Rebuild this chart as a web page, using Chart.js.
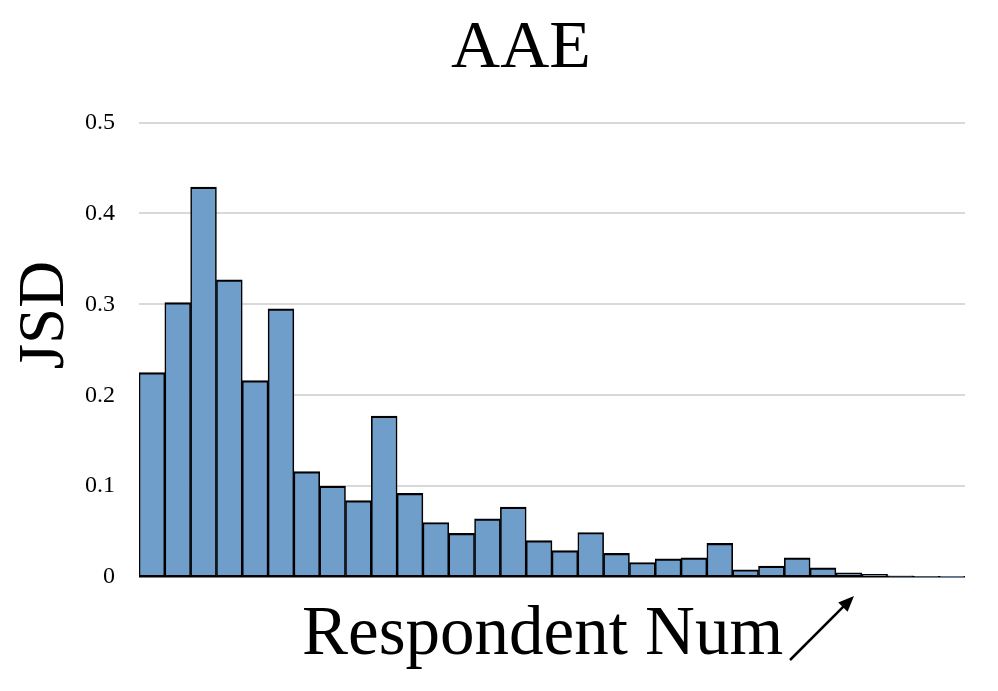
<!DOCTYPE html>
<html>
<head>
<meta charset="utf-8">
<script src="https://cdn.jsdelivr.net/npm/chart.js@4"></script>
<style>
  html, body { margin: 0; padding: 0; background: #fff; }
  #wrap { width: 998px; height: 691px; }
</style>
</head>
<body>
<div id="wrap"><canvas id="jsd-chart" width="998" height="691"></canvas></div>
<script>
// Data
const respondents = Array.from({ length: 32 }, (_, i) => String(i + 1))
const jsdValues = [
  0.225, 0.302, 0.429, 0.327, 0.216, 0.295, 0.116, 0.100,
  0.084, 0.177, 0.092, 0.060, 0.048, 0.064, 0.077, 0.040,
  0.029, 0.049, 0.026, 0.016, 0.020, 0.021, 0.037, 0.008,
  0.012, 0.021, 0.010, 0.0045, 0.003, 0.0012, 0.0006, 0.0004
]
const yTicks = [0, 0.1, 0.2, 0.3, 0.4, 0.5]

const chartTitle = 'AAE'
const yTitle = 'JSD'
const xTitle = 'Respondent Num'

const serif = "'Liberation Serif', 'Times New Roman', serif"

// Axis titles + the little arrow next to the x title
const axisLabels = {
  id: 'axisLabels',
  afterDraw(chart) {
    const c = chart.ctx
    c.save()
    c.fillStyle = '#000'
    c.font = `65px ${serif}`
    c.textBaseline = 'alphabetic'
    c.textAlign = 'center'
    c.translate(63, 315)
    c.rotate(-Math.PI / 2)
    c.fillText(yTitle, 0, 0)
    c.restore()

    c.save()
    c.fillStyle = '#000'
    c.font = `69px ${serif}`
    c.textBaseline = 'alphabetic'
    c.textAlign = 'left'
    c.fillText(xTitle, 302, 654)

    // arrow
    const x0 = 790, y0 = 660, x1 = 854, y1 = 596
    const ang = Math.atan2(y1 - y0, x1 - x0)
    const head = 17
    c.strokeStyle = '#000'
    c.lineWidth = 2.5
    c.beginPath()
    c.moveTo(x0, y0)
    c.lineTo(x1 - Math.cos(ang) * head * 0.8, y1 - Math.sin(ang) * head * 0.8)
    c.stroke()
    c.beginPath()
    c.moveTo(x1, y1)
    c.lineTo(x1 - head * Math.cos(ang - 0.4), y1 - head * Math.sin(ang - 0.4))
    c.lineTo(x1 - head * Math.cos(ang + 0.4), y1 - head * Math.sin(ang + 0.4))
    c.closePath()
    c.fill()
    c.restore()
  }
}

const ctx = document.getElementById('jsd-chart')
let myChart = new Chart(ctx, {
  type: 'bar',
  data: {
    labels: respondents,
    datasets: [{
      data: jsdValues,
      backgroundColor: '#709ECB',
      borderColor: '#000',
      borderWidth: { top: 2.2, bottom: 1.5, left: 1.6, right: 1.6 },
      borderSkipped: false,
      barPercentage: 1,
      categoryPercentage: 1
    }]
  },
  options: {
    responsive: false,
    animation: false,
    layout: {
      // left padding shifts the title over the plot; y scale width makes up the rest
      padding: { left: 77, right: 33, top: 0, bottom: 0 }
    },
    plugins: {
      legend: { display: false },
      tooltip: { enabled: false },
      title: {
        display: true,
        text: chartTitle,
        color: '#000',
        font: { family: serif, size: 68, weight: 'normal', lineHeight: 1.2 },
        padding: { top: 8, bottom: 33 }
      }
    },
    scales: {
      x: {
        grid: { display: false },
        border: { display: false },
        ticks: { display: false },
        afterFit(scale) { scale.height = 114 }
      },
      y: {
        min: 0,
        max: 0.5,
        afterBuildTicks(scale) { scale.ticks = yTicks.map(v => ({ value: v })) },
        afterFit(scale) { scale.width = 62 },
        border: { display: false },
        grid: {
          color: c => c.tick && c.tick.value === 0 ? '#000' : '#d9d9d9',
          lineWidth: c => c.tick && c.tick.value === 0 ? 1.5 : 2,
          drawTicks: false
        },
        ticks: {
          color: '#000',
          padding: 24,
          font: { family: serif, size: 24 },
          callback: v => v === 0 ? '0' : v.toFixed(1)
        }
      }
    }
  },
  plugins: [axisLabels]
})
</script>
</body>
</html>
